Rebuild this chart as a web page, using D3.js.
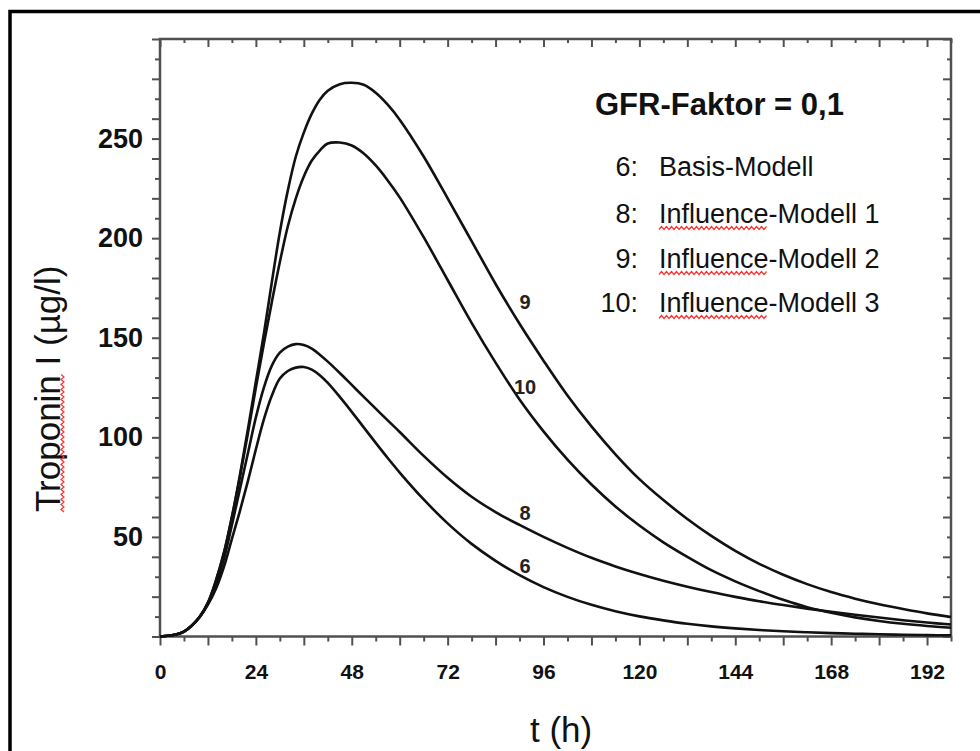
<!DOCTYPE html>
<html>
<head>
<meta charset="utf-8">
<script src="https://cdn.jsdelivr.net/npm/d3@7"></script>
<style>
  body { margin: 0; background: #fff; }
  svg { display: block; }
</style>
</head>
<body>
<svg id="chart" width="980" height="751"></svg>
<script>
// time points (h)
const hours = [0, 4, 6, 8, 10, 12, 14, 16, 18, 20, 22, 24, 26, 28, 30, 32, 34, 36, 38, 40,
  42, 45, 48, 51, 54, 57, 60, 66, 72, 78, 84, 90, 96, 102, 108, 114, 120, 126, 132, 138,
  144, 150, 156, 162, 168, 174, 180, 186, 192, 198];

// Troponin I (µg/l) per model
const model6 = [0, 1, 2.5, 5.5, 10, 16, 24, 35, 49, 63, 78, 94, 109, 121, 129.5, 133.3, 135, 135.3, 134, 131.2,
  127.3, 120.3, 112.8, 105, 97.2, 89.6, 82.3, 68.8, 56.8, 46.5, 38, 30.8, 24.8, 19.9, 15.9, 12.7, 10.1, 8.1, 6.4, 5.1,
  4.1, 3.3, 2.6, 2.1, 1.7, 1.4, 1.1, 0.9, 0.7, 0.6];
const model8 = [0, 1, 2.5, 5.5, 10, 16.5, 26, 39, 56, 74, 92, 110, 125, 136, 142.5, 145.5, 146.8, 146.3, 144.5, 141.5,
  138, 132.3, 126.3, 120.3, 114.4, 108.5, 102.7, 90.7, 79.7, 70.2, 62.5, 56, 50, 44.5, 39.5, 35.2, 31.4, 28, 25, 22.3,
  19.9, 17.7, 15.8, 14, 12.4, 10.9, 9.5, 8.2, 7, 6];
const model9 = [0, 1, 2.5, 5.5, 10, 17, 28, 42, 60, 81, 104, 128, 152, 178, 203, 224, 241, 253, 262.5, 269.5,
  274, 277.3, 278, 277, 273, 267, 259.5, 241, 220, 198.5, 177, 157, 138.5, 121, 105.5, 91.5, 79, 68.5, 59, 50.5,
  43, 36.5, 31, 26.3, 22.3, 19, 16.2, 13.8, 11.6, 9.8];
const model10 = [0, 1, 2.5, 5.5, 10, 17, 28, 42, 60, 80, 102, 125, 147, 168, 188, 206, 220, 231, 239, 244,
  247.5, 248, 246.5, 242.5, 236.5, 229, 220.5, 200.5, 179, 157.5, 137.5, 119, 103, 88.8, 76.3, 65.3, 55.7, 47.3, 40, 33.3,
  27.7, 22.8, 18.4, 14.7, 11.9, 9.6, 7.8, 6.4, 5.3, 4.4];

// curve number and where its tag sits (t, value)
const curveTags = [["9", 91.4, 168], ["10", 91.4, 125.5], ["8", 91.4, 62], ["6", 91.4, 35.3]];

const legendTitle = "GFR-Faktor = 0,1";
const legendNums = ["6:", "8:", "9:", "10:"];
const legendNames = ["Basis-Modell", "Influence-Modell 1", "Influence-Modell 2", "Influence-Modell 3"];

const xTicks = d3.range(0, 199, 6),
  yTicks = d3.range(0, 301, 10);

const font = "'Liberation Sans', Arial, sans-serif";

const svg = d3.select("#chart").style("font-family", font);

const x = d3.scaleLinear().domain([0, 198]).range([160, 951]);
const y = d3.scaleLinear().domain([0, 300]).range([636.5, 39]);

// outer frame (left and top only)
svg.append("path")
  .attr("d", "M10,751V11.5H980")
  .attr("fill", "none")
  .attr("stroke", "#000")
  .attr("stroke-width", 3.5);

const axisColor = "#505050";

function styleAxis(g) {
  g.select(".domain").remove();
  g.selectAll(".tick line").attr("stroke", axisColor).attr("stroke-width", 2);
}

// bottom
const xAxis = svg.append("g")
  .attr("transform", `translate(0,${y(0)})`)
  .call(d3.axisBottom(x).tickValues(xTicks).tickSize(9).tickPadding(19)
    .tickFormat(d => d % 24 === 0 ? d : ""))
  .call(styleAxis);
xAxis.selectAll(".tick line").attr("y2", d => d % 12 === 0 ? 9 : 5);
xAxis.selectAll(".tick text")
  .attr("fill", "#111")
  .style("font", `bold 21px ${font}`);

// top
const xTop = svg.append("g")
  .attr("transform", `translate(0,${y(300)})`)
  .call(d3.axisTop(x).tickValues(xTicks).tickFormat(""))
  .call(styleAxis);
xTop.selectAll(".tick line").attr("y2", d => d % 12 === 0 ? 8 : 4);

// left
const yAxis = svg.append("g")
  .attr("transform", `translate(${x(0)},0)`)
  .call(d3.axisLeft(y).tickValues(yTicks).tickSize(8).tickPadding(9)
    .tickFormat(d => d % 50 === 0 && d > 0 && d < 300 ? d : ""))
  .call(styleAxis);
yAxis.selectAll(".tick line").attr("x2", d => (d % 20 === 0 || d % 50 === 0) ? -8 : -5);
yAxis.selectAll(".tick text")
  .attr("fill", "#111")
  .style("font", `bold 27px ${font}`);

// right
const yRight = svg.append("g")
  .attr("transform", `translate(${x(198)},0)`)
  .call(d3.axisRight(y).tickValues(yTicks).tickFormat(""))
  .call(styleAxis);
yRight.selectAll(".tick line").attr("x2", d => d % 20 === 0 ? -8 : -4);

// plot box
svg.append("rect")
  .attr("x", x(0)).attr("y", y(300))
  .attr("width", x(198) - x(0)).attr("height", y(0) - y(300))
  .attr("fill", "none")
  .attr("stroke", axisColor)
  .attr("stroke-width", 2.5);

// curves
const line = d3.line()
  .x((d, i) => x(hours[i]))
  .y(d => y(d))
  .curve(d3.curveCatmullRom.alpha(0.5));

svg.append("g").selectAll("path")
  .data([model6, model8, model9, model10])
  .join("path")
  .attr("d", line)
  .attr("fill", "none")
  .attr("stroke", "#111")
  .attr("stroke-width", 2.6);

svg.append("g").selectAll("text")
  .data(curveTags)
  .join("text")
  .attr("x", d => x(d[1]))
  .attr("y", d => y(d[2]))
  .attr("dy", "0.36em")
  .attr("text-anchor", "middle")
  .attr("fill", "#222")
  .style("font", `bold 20px ${font}`)
  .text(d => d[0]);

// legend
svg.append("text")
  .attr("x", 595).attr("y", 115)
  .attr("fill", "#111")
  .style("font", `bold 31px ${font}`)
  .text(legendTitle);

const rowY = [176, 223, 268, 312];

const rows = svg.append("g").selectAll("g")
  .data(legendNames)
  .join("g")
  .attr("transform", (d, i) => `translate(0,${rowY[i]})`);

rows.append("text")
  .attr("x", 638)
  .attr("text-anchor", "end")
  .attr("fill", "#111")
  .style("font", `27px ${font}`)
  .text((d, i) => legendNums[i]);

rows.append("text")
  .attr("x", 659)
  .attr("fill", "#111")
  .style("font", `27px ${font}`)
  .text(d => d);

// spell-check squiggle
function squiggle(len) {
  const pts = d3.range(0, len + 0.1, 2.5).map((s, i) => [s, i % 2 ? 0 : 3]);
  return d3.line()(pts);
}

rows.filter(d => d.startsWith("Influence"))
  .append("path")
  .attr("d", squiggle(109))
  .attr("transform", "translate(659,3.5)")
  .attr("fill", "none")
  .attr("stroke", "#ff3030")
  .attr("stroke-width", 1.2);

// axis titles
svg.append("text")
  .attr("transform", "translate(60,512) rotate(-90)")
  .attr("fill", "#111")
  .style("font", `35px ${font}`)
  .text("Troponin I (µg/l)");

svg.append("path")
  .attr("d", squiggle(139))
  .attr("transform", "translate(61,512) rotate(-90)")
  .attr("fill", "none")
  .attr("stroke", "#ff3030")
  .attr("stroke-width", 1.2);

svg.append("text")
  .attr("x", 530).attr("y", 742)
  .attr("fill", "#111")
  .style("font", `35px ${font}`)
  .text("t (h)");
</script>
</body>
</html>
